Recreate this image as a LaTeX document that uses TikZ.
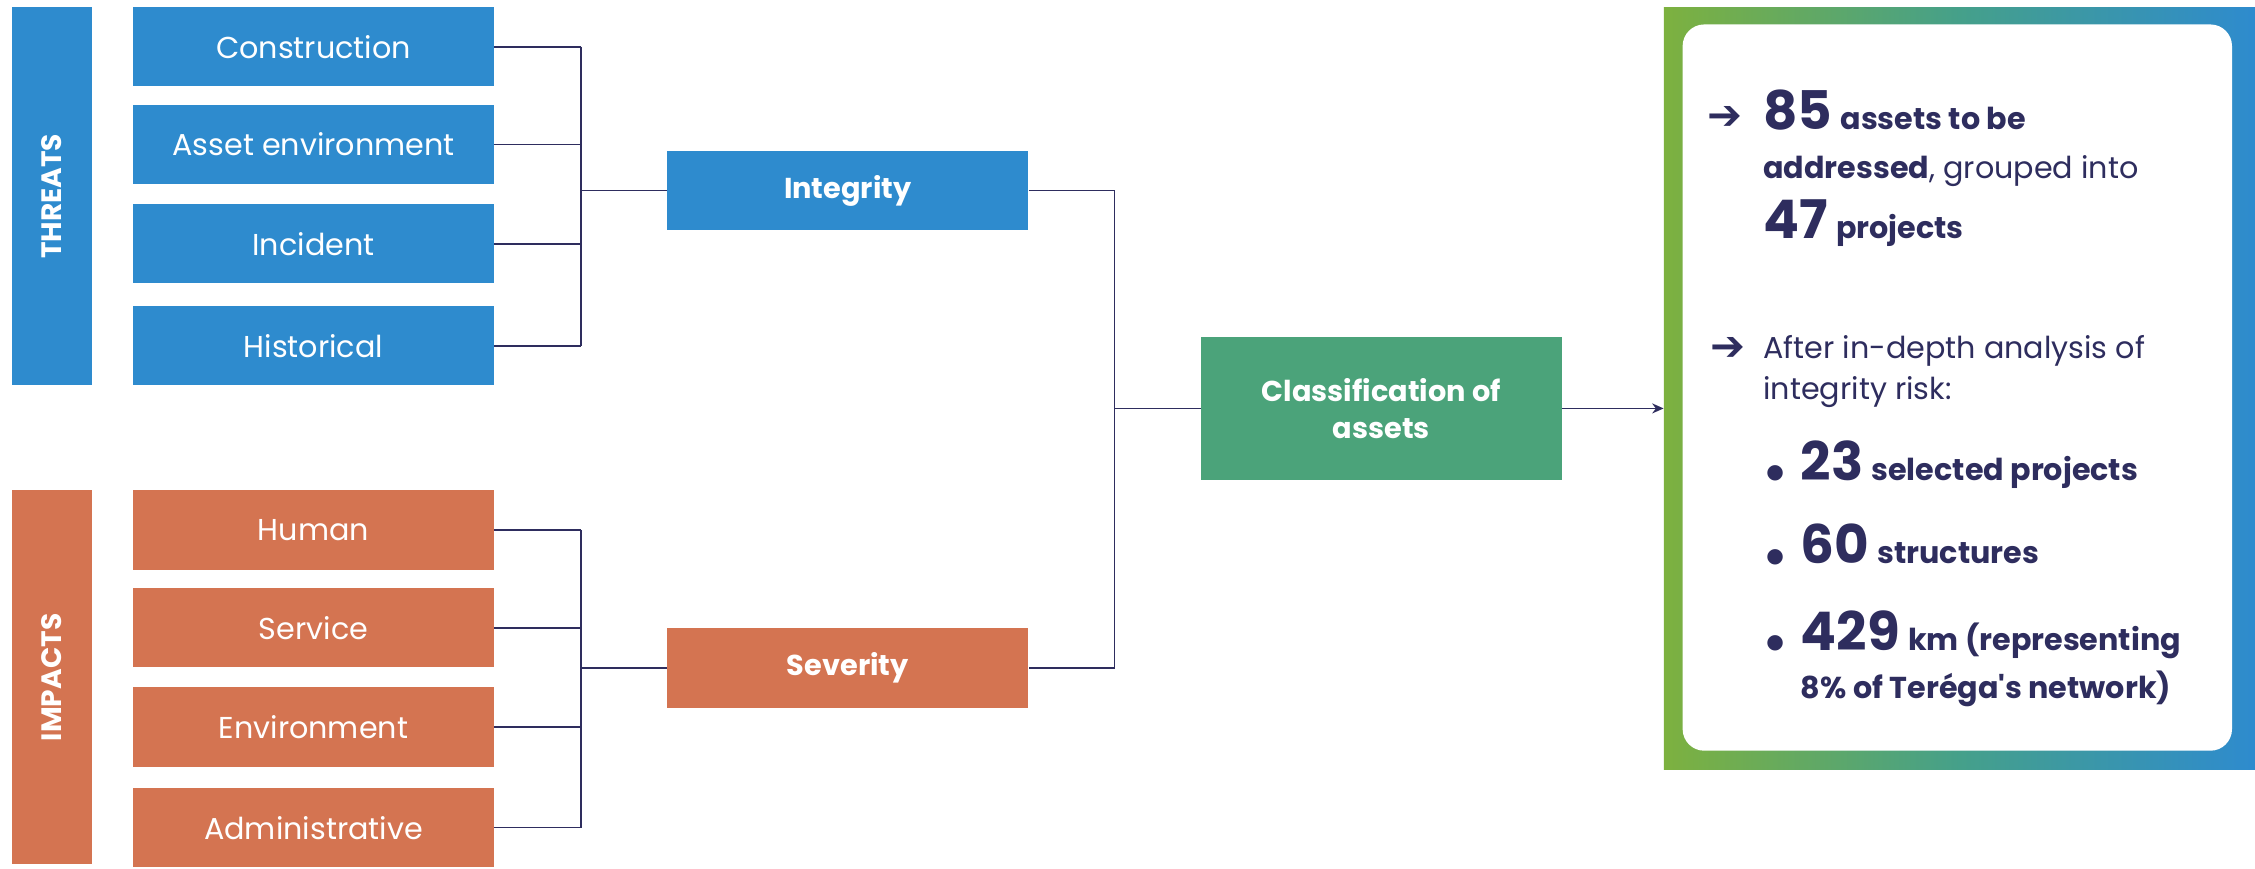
\documentclass[tikz,border=0pt]{standalone}
\usepackage{fontspec}
\newfontfamily\pop{Poppins}
\newfontfamily\dejavu{DejaVu Sans}
\usetikzlibrary{arrows.meta}
\definecolor{tblue}{HTML}{2E8BCE}
\definecolor{torange}{HTML}{D47451}
\definecolor{tgreen}{HTML}{4BA37A}
\definecolor{navy}{HTML}{2E2D5E}
\definecolor{lime}{HTML}{7DB13F}
\definecolor{midteal}{HTML}{45A08A}
\newcommand{\bignum}[1]{{\fontsize{37}{40}\selectfont\bfseries #1}}
\newcommand{\midsize}{\fontsize{21}{25}\selectfont}
\begin{document}
\begin{tikzpicture}[x=1pt,y=-1pt,
  box/.style={rectangle, inner sep=0pt, minimum width=251pt, minimum height=55pt,
    text=white, font=\pop\fontsize{21}{25}\selectfont},
  threat/.style={box, fill=tblue},
  impact/.style={box, fill=torange},
  bar/.style={rectangle, inner sep=0pt, minimum height=56pt, rotate=90,
    text=white, font=\pop\bfseries\fontsize{19.5}{22}\selectfont},
  link/.style={draw=navy, line width=1.1pt},
  info/.style={anchor=base west, inner sep=0pt, text=navy, font=\pop\midsize},
  arrowmark/.style={anchor=base west, inner sep=0pt, text=navy, font=\dejavu\fontsize{29}{30}\selectfont},
  bulletmark/.style={anchor=base west, inner sep=0pt, text=navy, font=\dejavu\fontsize{14}{16}\selectfont}
]
\useasboundingbox (0,0) rectangle (1568,604);

% side bars
\node[bar, fill=tblue, minimum width=263pt] (threats) at (36,136.5) {THREATS};
\node[bar, fill=torange, minimum width=260pt] (impacts) at (36,471) {IMPACTS};

% threat boxes
\node[threat] (c1) at (218,32.5) {Construction};
\node[threat] (c2) at (218,100.5) {Asset environment};
\node[threat] (c3) at (218,169.5) {Incident};
\node[threat] (c4) at (218,240.5) {Historical};

% impact boxes
\node[impact] (i1) at (218,368.5) {Human};
\node[impact] (i2) at (218,436.5) {Service};
\node[impact] (i3) at (218,505.5) {Environment};
\node[impact] (i4) at (218,575.5) {Administrative};

% intermediate and final boxes
\node[threat, font=\pop\bfseries\fontsize{20}{24}\selectfont] (integ) at (589.5,132.5) {Integrity};
\node[impact, font=\pop\bfseries\fontsize{20}{24}\selectfont] (sev) at (589.5,464.5) {Severity};
\node[box, fill=tgreen, minimum height=100pt, align=center,
  font=\pop\bfseries\fontsize{20}{26}\selectfont] (cls) at (960.5,284) {Classification of\\assets};

% junction points
\coordinate (tj) at (404,132.5);
\coordinate (ij) at (404,464.5);
\coordinate (cj) at (775,284);

% threat bracket
\foreach \b in {c1,c2,c3,c4} \draw[link] (\b.east) -- (\b.east -| tj);
\draw[link] (c1.east -| tj) -- (c4.east -| tj);
\draw[link] (tj) -- (integ.west);

% impact bracket
\foreach \b in {i1,i2,i3,i4} \draw[link] (\b.east) -- (\b.east -| ij);
\draw[link] (i1.east -| ij) -- (i4.east -| ij);
\draw[link] (ij) -- (sev.west);

% integrity + severity bracket
\draw[link] (integ.east) -- (integ.east -| cj) -- (sev.east -| cj) -- (sev.east);
\draw[link] (cj) -- (cls.west);

% results panel
\node[rectangle, inner sep=0pt, minimum width=411pt, minimum height=530pt,
  left color=lime, right color=tblue, middle color=midteal] (frame) at (1362.5,270) {};
\node[rectangle, inner sep=0pt, rounded corners=15pt, fill=white,
  minimum width=382pt, minimum height=505pt] (panel) at (1361,269.5) {};

\draw[link, -{Stealth[length=8pt,width=7pt]}] (cls.east) -- (cls.east -| frame.west);

% panel text
\node[arrowmark] (m1) at (1187,90) {➔};
\node[info] (l1) at (1226,90) {\bignum{85} \textbf{assets to be}};
\node[info] (l2) at (1226,124) {\textbf{addressed}, grouped into};
\node[info] (l3) at (1226,166) {\bignum{47} \textbf{projects}};
\node[arrowmark] (m2) at (1189,251) {➔};
\node[info] (l4) at (1226,249) {After in-depth analysis of};
\node[info] (l5) at (1226,278) {integrity risk:};

\node[bulletmark] (b1) at (1228,333) {●};
\node[info] (l6) at (1252,334) {\bignum{23} \textbf{selected projects}};
\node[bulletmark] (b2) at (1228,391) {●};
\node[info] (l7) at (1252,392) {\bignum{60} \textbf{structures}};
\node[bulletmark] (b3) at (1228,451) {●};
\node[info] (l8) at (1252,452) {\bignum{429} \textbf{km (representing}};
\node[info] (l9) at (1252,486) {\textbf{8\% of Teréga's network)}};
\end{tikzpicture}
\end{document}
